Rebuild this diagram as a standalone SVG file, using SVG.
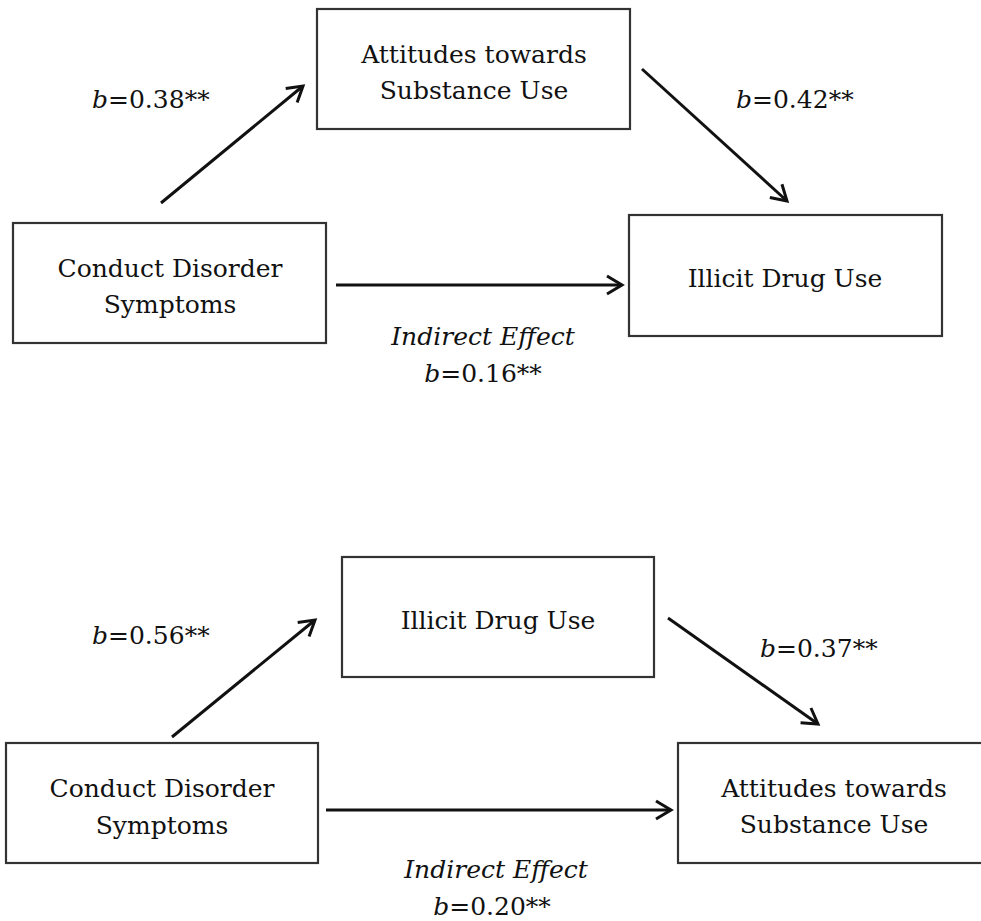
<svg xmlns="http://www.w3.org/2000/svg" width="981" height="921" viewBox="0 0 981 921">
<defs>
<style>
.box{fill:#fff;stroke:#333;stroke-width:2.2}
text{font-family:'DejaVu Serif','Liberation Serif',serif;font-size:25px;fill:#111}
.t{text-anchor:middle}
.edge{stroke:#111;stroke-width:3;fill:none;marker-end:url(#arr)}
</style>
<marker id="arr" markerUnits="userSpaceOnUse" markerWidth="30" markerHeight="30" refX="0" refY="0" viewBox="-20 -15 30 30" orient="auto" overflow="visible">
<path d="M-15,-9 L0,0 L-15,9" fill="none" stroke="#111" stroke-width="3" stroke-linejoin="miter"/>
</marker>
</defs>
<rect width="981" height="921" fill="#fff"/>

<g id="top-attitudes"><rect class="box" x="317" y="9" width="313" height="120"/>
<text class="t" x="474" y="63">Attitudes towards</text><text class="t" x="474" y="99">Substance Use</text></g>
<g id="top-conduct"><rect class="box" x="13" y="223" width="313" height="120"/>
<text class="t" x="170" y="277">Conduct Disorder</text><text class="t" x="170" y="313">Symptoms</text></g>
<g id="top-illicit"><rect class="box" x="629" y="215" width="313" height="121"/>
<text class="t" x="785" y="287">Illicit Drug Use</text></g>

<g id="bottom-illicit"><rect class="box" x="342" y="557" width="312" height="120"/>
<text class="t" x="498" y="629">Illicit Drug Use</text></g>
<g id="bottom-conduct"><rect class="box" x="6" y="743" width="312" height="120"/>
<text class="t" x="162" y="797">Conduct Disorder</text><text class="t" x="162" y="834">Symptoms</text></g>
<g id="bottom-attitudes"><rect class="box" x="678" y="743" width="320" height="120"/>
<text class="t" x="834" y="797">Attitudes towards</text><text class="t" x="834" y="833">Substance Use</text></g>

<g id="connectors">
<line class="edge" x1="161" y1="203" x2="303" y2="86"/>
<line class="edge" x1="642" y1="69" x2="787" y2="201"/>
<line class="edge" x1="336" y1="285" x2="622" y2="285"/>
<line class="edge" x1="172" y1="737" x2="315" y2="620"/>
<line class="edge" x1="668" y1="618" x2="818" y2="724"/>
<line class="edge" x1="326" y1="810" x2="671" y2="810"/>
</g>

<g id="labels">
<text x="92" y="108"><tspan font-style="italic">b</tspan>=0.38**</text>
<text x="736" y="108"><tspan font-style="italic">b</tspan>=0.42**</text>
<text class="t" x="483" y="345" font-style="italic">Indirect Effect</text>
<text class="t" x="483" y="382"><tspan font-style="italic">b</tspan>=0.16**</text>
<text x="92" y="644"><tspan font-style="italic">b</tspan>=0.56**</text>
<text x="760" y="657"><tspan font-style="italic">b</tspan>=0.37**</text>
<text class="t" x="496" y="878" font-style="italic">Indirect Effect</text>
<text class="t" x="492" y="915"><tspan font-style="italic">b</tspan>=0.20**</text>
</g>
</svg>
